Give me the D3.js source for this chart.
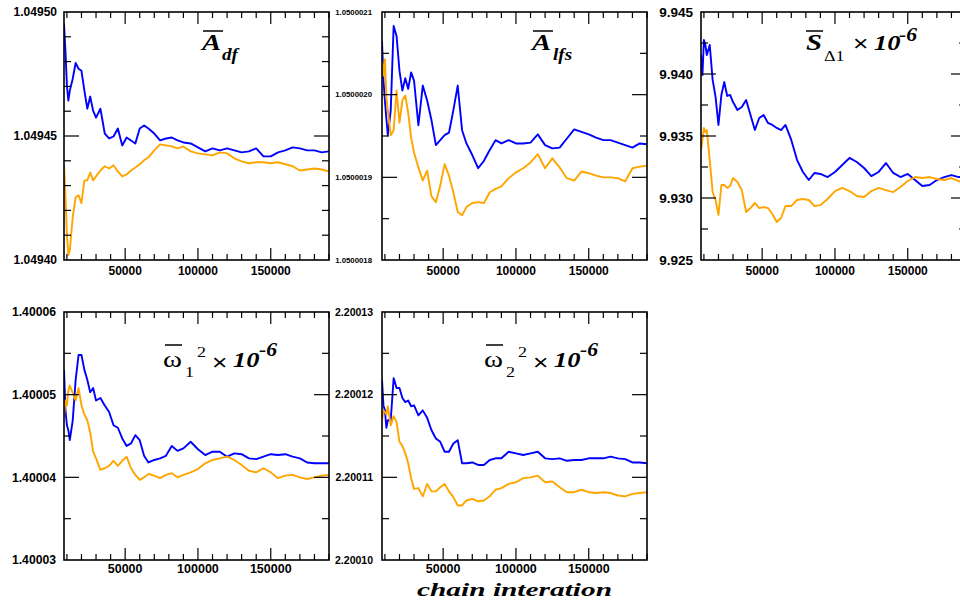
<!DOCTYPE html>
<html>
<head>
<meta charset="utf-8">
<script src="https://cdn.jsdelivr.net/npm/d3@7"></script>
<style>
  body { margin: 0; background: #fff; }
  svg { display: block; }
</style>
</head>
<body>
<svg width="960" height="601"></svg>
<script>
// chain iteration at which each value was read
const iterations = [8000, 9000, 10000, 11000, 12000, 14000, 16000, 18000, 20000, 22000, 24000, 26000, 28000, 30000,
  33000, 36000, 39000, 42000, 45000, 48000, 51000, 54000, 57000, 60000, 63000, 66000,
  70000, 74000, 78000, 82000, 86000, 90000,
  95000, 100000, 105000, 110000, 115000, 120000, 125000, 130000, 135000, 140000, 145000, 150000,
  155000, 160000, 165000, 170000, 175000, 180000, 185000, 190000];

const xTickLabels = [50000, 100000, 150000];

// A_df
const adfBlue = [1.0494952, 1.0494843, 1.0494703, 1.0494643, 1.0494683, 1.0494731, 1.0494795, 1.0494771, 1.0494763, 1.0494683,
  1.049461, 1.0494659, 1.0494602, 1.0494574, 1.049461, 1.049451, 1.049449, 1.0494498, 1.049453, 1.0494462,
  1.0494494, 1.0494482, 1.049447, 1.049453, 1.0494542, 1.049453, 1.049451, 1.0494482, 1.049449, 1.0494494,
  1.0494482, 1.0494474, 1.049447, 1.0494454, 1.0494438, 1.049445, 1.0494442, 1.049445, 1.0494442, 1.0494434,
  1.0494438, 1.049445, 1.0494418, 1.0494418, 1.0494434, 1.0494442, 1.0494454, 1.049445, 1.0494442, 1.0494442,
  1.0494434, 1.0494438];
const adfOrange = [1.0494382, 1.0494261, 1.04941, 1.049402, 1.049404, 1.0494173, 1.0494253, 1.0494261, 1.0494229, 1.0494321,
  1.0494321, 1.0494353, 1.0494321, 1.0494337, 1.0494361, 1.0494378, 1.0494369, 1.0494382, 1.0494357, 1.0494337,
  1.0494345, 1.0494361, 1.0494373, 1.0494386, 1.0494402, 1.0494414, 1.0494442, 1.0494466, 1.0494462, 1.0494458,
  1.049445, 1.0494458, 1.0494438, 1.049443, 1.0494426, 1.0494422, 1.0494434, 1.049443, 1.049441, 1.0494398,
  1.049439, 1.0494394, 1.0494394, 1.049439, 1.0494394, 1.0494386, 1.0494378, 1.0494361, 1.0494365, 1.0494369,
  1.0494365, 1.0494357];
const adfTicks = [1.0494, 1.04945, 1.0495];

// A_lfs
const alfsBlue = [1.050002065, 1.050002017, 1.050001993, 1.050001971, 1.050001951, 1.050001981, 1.050002083, 1.050002071,
  1.050002029, 1.050002005, 1.05000202, 1.050002007, 1.050002027, 1.050002017, 1.050001963, 1.050002011,
  1.050001993, 1.050001969, 1.050001939, 1.050001945, 1.050001951, 1.050001954, 1.050001981, 1.050002011,
  1.050001957, 1.050001941, 1.050001927, 1.050001911, 1.05000192, 1.050001933, 1.050001945, 1.050001941,
  1.050001945, 1.050001941, 1.050001941, 1.050001942, 1.050001952, 1.050001939, 1.050001935, 1.050001936,
  1.050001947, 1.050001958, 1.050001955, 1.050001952, 1.050001948, 1.050001945, 1.050001945, 1.050001942,
  1.050001939, 1.050001936, 1.050001941, 1.05000194];
const alfsOrange = [1.050002041, 1.050002023, 1.050002043, 1.050001996, 1.050001981, 1.050001951, 1.050001957, 1.050002005,
  1.050001966, 1.050001993, 1.050001999, 1.050001978, 1.050001948, 1.05000193, 1.050001912, 1.050001896,
  1.050001908, 1.050001877, 1.05000187, 1.05000189, 1.050001916, 1.050001902, 1.050001882, 1.050001858,
  1.050001854, 1.050001864, 1.050001869, 1.05000187, 1.050001869, 1.050001882, 1.050001886, 1.050001889,
  1.050001899, 1.050001906, 1.050001911, 1.050001918, 1.050001928, 1.050001911, 1.050001923, 1.050001912,
  1.050001899, 1.050001896, 1.050001907, 1.050001905, 1.050001902, 1.0500019, 1.0500019, 1.050001899,
  1.050001895, 1.050001911, 1.050001913, 1.050001914];
const alfsTicks = [1.0500018, 1.0500019, 1.050002, 1.0500021];

// S_Delta1 x 1e-6
const sBlue = [9.94153, 9.93992, 9.94274, 9.94234, 9.94153, 9.94234, 9.93952, 9.93815, 9.93589, 9.93831,
  9.93935, 9.93823, 9.93831, 9.93774, 9.9371, 9.93734, 9.9379, 9.93669, 9.93548, 9.93645,
  9.93669, 9.93605, 9.93589, 9.93565, 9.93548, 9.93589, 9.93468, 9.93306, 9.9321, 9.93145,
  9.93202, 9.93194, 9.93169, 9.9321, 9.93266, 9.93323, 9.9329, 9.93242, 9.93177, 9.9321,
  9.93282, 9.93202, 9.93169, 9.93194, 9.93145, 9.93097, 9.93105, 9.93145, 9.93169, 9.93185,
  9.93169, 9.93169];
const sOrange = [9.93387, 9.93468, 9.93564, 9.93532, 9.93548, 9.93306, 9.93048, 9.92984, 9.92863, 9.93105,
  9.93105, 9.93081, 9.93097, 9.93161, 9.93129, 9.93064, 9.92887, 9.92919, 9.9296, 9.92919,
  9.92927, 9.92919, 9.92871, 9.92806, 9.92839, 9.92935, 9.92935, 9.92984, 9.92992, 9.92984,
  9.92935, 9.92943, 9.92992, 9.93056, 9.93081, 9.93056, 9.93016, 9.93008, 9.93056, 9.93081,
  9.93064, 9.93048, 9.93089, 9.93137, 9.93169, 9.93161, 9.93169, 9.93153, 9.93145, 9.93161,
  9.93137, 9.93121];
const sTicks = [9.925, 9.93, 9.935, 9.94, 9.945];

// omega_1^2 x 1e-6
const omega1Blue = [1.400053, 1.4000481, 1.4000463, 1.4000457, 1.4000445, 1.4000469, 1.4000518, 1.4000548, 1.4000548, 1.400053,
  1.4000518, 1.4000503, 1.4000508, 1.4000493, 1.4000496, 1.4000487, 1.4000479, 1.4000463, 1.400046, 1.4000447,
  1.4000438, 1.4000441, 1.4000451, 1.4000445, 1.4000426, 1.4000418, 1.4000421, 1.4000423, 1.4000426, 1.4000438,
  1.4000432, 1.4000435, 1.4000443, 1.4000434, 1.4000427, 1.4000431, 1.4000431, 1.4000425, 1.4000429, 1.4000428,
  1.4000423, 1.4000422, 1.4000425, 1.4000428, 1.4000427, 1.4000428, 1.4000425, 1.4000423, 1.4000418, 1.4000417,
  1.4000417, 1.4000417];
const omega1Orange = [1.4000473, 1.4000493, 1.4000487, 1.4000505, 1.4000511, 1.4000502, 1.4000493, 1.4000508, 1.4000487, 1.4000476,
  1.4000469, 1.4000454, 1.4000431, 1.4000423, 1.4000409, 1.4000411, 1.4000414, 1.400042, 1.4000414, 1.400042,
  1.4000425, 1.4000411, 1.4000403, 1.4000397, 1.40004, 1.4000404, 1.4000402, 1.4000399, 1.4000403, 1.4000405,
  1.40004, 1.4000403, 1.4000406, 1.400041, 1.4000417, 1.4000421, 1.4000423, 1.4000425, 1.4000421, 1.4000415,
  1.4000408, 1.4000406, 1.4000411, 1.4000406, 1.4000399, 1.4000402, 1.4000403, 1.40004, 1.4000398, 1.40004,
  1.4000402, 1.4000403];
const omega1Ticks = [1.40003, 1.40004, 1.40005, 1.40006];

// omega_2^2 x 1e-6
const omega2Blue = [2.2001218, 2.2001187, 2.2001181, 2.200116, 2.2001169, 2.2001169, 2.200122, 2.2001208, 2.2001208, 2.2001196,
  2.2001191, 2.2001193, 2.2001186, 2.2001187, 2.2001175, 2.2001181, 2.2001172, 2.2001157, 2.2001147, 2.2001143,
  2.2001131, 2.2001131, 2.2001141, 2.2001145, 2.2001117, 2.2001117, 2.2001118, 2.2001115, 2.2001115, 2.2001121,
  2.2001123, 2.2001123, 2.2001131, 2.2001129, 2.2001127, 2.2001129, 2.2001131, 2.2001123, 2.2001122, 2.2001123,
  2.200112, 2.2001121, 2.2001121, 2.2001123, 2.2001123, 2.2001123, 2.2001125, 2.2001123, 2.2001122, 2.2001118,
  2.2001118, 2.2001117];
const omega2Orange = [2.2001169, 2.2001181, 2.2001179, 2.2001176, 2.2001186, 2.2001163, 2.2001174, 2.2001167, 2.2001143, 2.2001138,
  2.2001129, 2.2001117, 2.2001099, 2.2001086, 2.2001087, 2.2001077, 2.2001092, 2.2001083, 2.2001083, 2.2001088,
  2.2001092, 2.2001083, 2.2001076, 2.2001066, 2.2001066, 2.2001072, 2.2001074, 2.2001071, 2.2001072, 2.2001077,
  2.2001085, 2.2001087, 2.2001092, 2.2001094, 2.2001099, 2.20011, 2.2001102, 2.2001094, 2.2001095, 2.2001088,
  2.2001082, 2.2001082, 2.2001085, 2.2001082, 2.2001081, 2.2001082, 2.2001081, 2.2001078, 2.2001077, 2.200108,
  2.2001081, 2.2001082];
const omega2Ticks = [2.2001, 2.20011, 2.20012, 2.20013];

const xLabel = "chain interation";

// layout
const W = 265, H = 248;
const SERIF = "'Liberation Serif', 'Times New Roman', serif";
const SANS = "'Liberation Sans', Arial, Helvetica, sans-serif";

const panels = [
  {left: 64, top: 12, blue: adfBlue, orange: adfOrange, ticks: adfTicks, minorDiv: 10, fmt: ".5f", ySize: 12, yGap: 7, xSize: 12, xOff: 15},
  {left: 382, top: 12, blue: alfsBlue, orange: alfsOrange, ticks: alfsTicks, minorDiv: 6, fmt: ".7f", ySize: 7.8, yGap: 10, xSize: 12, xOff: 15},
  {left: 701, top: 12, blue: sBlue, orange: sOrange, ticks: sTicks, minorDiv: 8, fmt: ".3f", ySize: 13.5, yGap: 8, xSize: 12, xOff: 15},
  {left: 64, top: 312, blue: omega1Blue, orange: omega1Orange, ticks: omega1Ticks, minorDiv: 6, fmt: ".5f", ySize: 12.2, yGap: 8, xSize: 12.5, xOff: 13},
  {left: 382, top: 312, blue: omega2Blue, orange: omega2Orange, ticks: omega2Ticks, minorDiv: 6, fmt: ".5f", ySize: 10.5, yGap: 9, xSize: 12.5, xOff: 13}
];

// title pieces: text, x, y, size, kind (bi = bold italic serif, r = serif, sans)
const titles = [
  {bar: [203, 223, 31], parts: [["A", 202, 50, 24, "bi"], ["df", 222, 60, 16, "bi"]]},
  {bar: [533, 553, 31], parts: [["A", 532, 50, 24, "bi"], ["lfs", 553, 60, 16, "bi"]]},
  {bar: [806, 823, 31], parts: [["S", 806, 50, 24, "bi"], ["\u03941", 824, 61, 15, "r"], ["\u00d7", 853, 51, 22, "sans"],
    ["10", 874, 50, 22, "bi"], ["-6", 899, 41, 18, "bi"]]},
  {bar: [165, 182, 345], parts: [["\u03c9", 163, 367, 24, "r"], ["1", 185, 377, 15, "r"], ["2", 197, 357, 15, "r"],
    ["\u00d7", 212, 370, 22, "sans"], ["10", 233, 367, 22, "bi"], ["-6", 259, 356, 18, "bi"]]},
  {bar: [486, 503, 345], parts: [["\u03c9", 484, 367, 24, "r"], ["2", 506, 377, 15, "r"], ["2", 518, 357, 15, "r"],
    ["\u00d7", 533, 370, 22, "sans"], ["10", 554, 367, 22, "bi"], ["-6", 580, 356, 18, "bi"]]}
];

const svg = d3.select("svg");
svg.append("rect").attr("width", 960).attr("height", 601).attr("fill", "#fff");

panels.forEach((p, k) => {
  const x = d3.scaleLinear().domain([8000, 190000]).range([p.left, p.left + W]);
  const y = d3.scaleLinear().domain([p.ticks[0], p.ticks[p.ticks.length - 1]]).range([p.top + H, p.top]);
  const g = svg.append("g");

  g.append("clipPath").attr("id", "clip" + k)
    .append("rect").attr("x", p.left).attr("y", p.top).attr("width", W).attr("height", H);

  const line = d3.line().x((d, i) => x(iterations[i])).y(d => y(d));
  [[p.blue, "#0000ff"], [p.orange, "#ffa500"]].forEach(([vals, col]) => {
    g.append("path")
      .datum(vals)
      .attr("clip-path", `url(#clip${k})`)
      .attr("fill", "none")
      .attr("stroke", col)
      .attr("stroke-width", 1.9)
      .attr("stroke-linejoin", "round")
      .attr("d", line);
  });

  // y ticks (left and right, pointing inward)
  const [y0, y1] = y.domain();
  const minor = d3.range(1, p.minorDiv).map(i => y0 + i * (y1 - y0) / p.minorDiv);
  const isMajor = v => p.ticks.some(t => Math.abs(t - v) < (y1 - y0) * 1e-3);
  minor.forEach(v => {
    const len = isMajor(v) ? 15 : 7;
    g.append("line").attr("x1", p.left).attr("x2", p.left + len)
      .attr("y1", y(v)).attr("y2", y(v)).attr("stroke", "#000").attr("stroke-width", 1.2);
    g.append("line").attr("x1", p.left + W - len).attr("x2", p.left + W)
      .attr("y1", y(v)).attr("y2", y(v)).attr("stroke", "#000").attr("stroke-width", 1.2);
  });

  // x ticks (top and bottom)
  d3.range(10000, 190001, 10000).forEach(v => {
    const len = xTickLabels.includes(v) ? 12 : 6;
    g.append("line").attr("x1", x(v)).attr("x2", x(v))
      .attr("y1", p.top + H).attr("y2", p.top + H - len).attr("stroke", "#000").attr("stroke-width", 1.2);
    g.append("line").attr("x1", x(v)).attr("x2", x(v))
      .attr("y1", p.top).attr("y2", p.top + len).attr("stroke", "#000").attr("stroke-width", 1.2);
  });

  g.append("rect")
    .attr("x", p.left).attr("y", p.top).attr("width", W).attr("height", H)
    .attr("fill", "none").attr("stroke", "#000").attr("stroke-width", 1.6);

  const f = d3.format(p.fmt);
  g.selectAll(".ylab").data(p.ticks).join("text")
    .attr("x", p.left - p.yGap)
    .attr("y", d => y(d))
    .attr("dy", "0.35em")
    .attr("text-anchor", "end")
    .style("font-family", SANS)
    .style("font-weight", "bold")
    .style("font-size", p.ySize + "px")
    .text(d => f(d));

  g.selectAll(".xlab").data(xTickLabels).join("text")
    .attr("x", d => x(d))
    .attr("y", p.top + H + p.xOff)
    .attr("text-anchor", "middle")
    .style("font-family", SANS)
    .style("font-weight", "bold")
    .style("font-size", p.xSize + "px")
    .text(d => d);
});

// panel titles
titles.forEach(t => {
  svg.append("line")
    .attr("x1", t.bar[0]).attr("x2", t.bar[1]).attr("y1", t.bar[2]).attr("y2", t.bar[2])
    .attr("stroke", "#000").attr("stroke-width", 1.5);
  t.parts.forEach(([str, px, py, size, kind]) => {
    svg.append("text")
      .attr("transform", `translate(${px},${py}) scale(1.2,1)`)
      .style("font-family", kind === "sans" ? SANS : SERIF)
      .style("font-weight", kind === "bi" ? "bold" : "normal")
      .style("font-style", kind === "bi" ? "italic" : "normal")
      .style("font-size", size + "px")
      .text(str);
  });
});

svg.append("text")
  .attr("x", 417).attr("y", 596)
  .attr("textLength", 195)
  .attr("lengthAdjust", "spacingAndGlyphs")
  .style("font-family", SERIF)
  .style("font-weight", "bold")
  .style("font-style", "italic")
  .style("font-size", "19px")
  .text(xLabel);
</script>
</body>
</html>
